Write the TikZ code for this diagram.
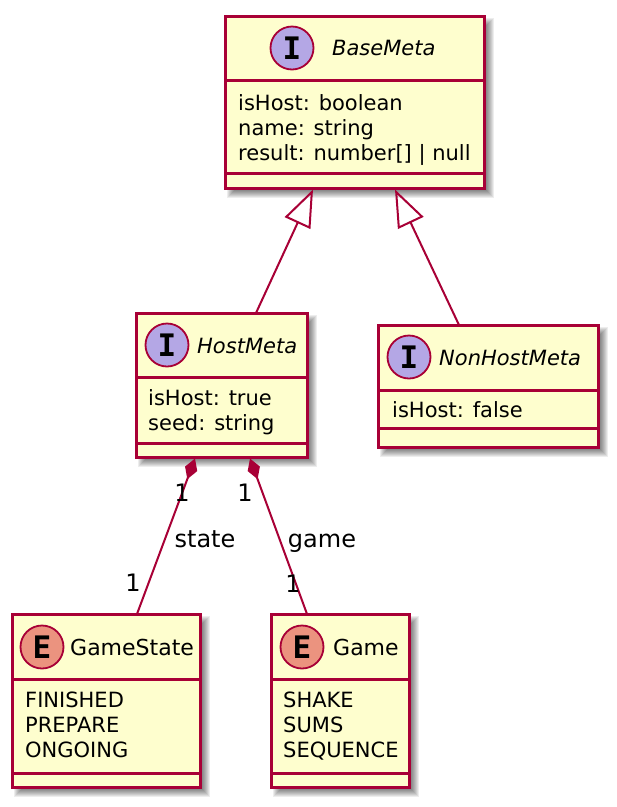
\documentclass[tikz,border=0pt]{standalone}
\usepackage{fontspec}
\setmainfont{DejaVu Sans}
\newfontfamily\circfont{DejaVu Sans Mono}
\usetikzlibrary{arrows.meta,calc}
\definecolor{umlborder}{HTML}{A80036}
\definecolor{umlfill}{HTML}{FEFECE}
\definecolor{ifill}{HTML}{B4A7E5}
\definecolor{efill}{HTML}{EB937F}
\tikzset{
  umlbox/.style={draw=umlborder, fill=umlfill, line width=3pt, inner sep=0pt, outer sep=0pt, rectangle},
  divider/.style={draw=umlborder, line width=3pt},
  txt/.style={anchor=base west, inner sep=0pt, font=\fontsize{21}{25}\selectfont},
  ttl/.style={anchor=base west, inner sep=0pt, font=\fontsize{21}{25}\selectfont\itshape},
  etl/.style={anchor=base west, inner sep=0pt, font=\fontsize{22}{25}\selectfont},
  circ/.style={circle, draw=umlborder, line width=1.8pt, minimum size=43pt, inner sep=0pt,
    font={\circfont\bfseries\fontsize{31}{31}\selectfont}},
  conn/.style={draw=umlborder, line width=2pt},
  lbl/.style={anchor=base, inner sep=0pt, font=\fontsize{24}{28}\selectfont},
}
% name x1 y1 x2 y2 div1 div2
\newcommand\umlclass[7]{%
  \foreach \e in {-4,...,4} {%
    \fill[black, opacity=0.07] ({#2+6-\e},{#3+6-\e}) rectangle ({#4+6+\e},{#5+6+\e});
  }
  \node[umlbox, minimum width={#4pt-#2pt}, minimum height={#5pt-#3pt}] (#1) at ({(#2+#4)/2},{(#3+#5)/2}) {};
  \draw[divider] (#2,#6) -- (#4,#6);
  \draw[divider] (#2,#7) -- (#4,#7);
}
\begin{document}
\begin{tikzpicture}[x=1pt,y=-1pt]
\fill[white] (0,0) rectangle (617,807);
\useasboundingbox (0,0) rectangle (617,807);

% BaseMeta
\umlclass{base}{225}{16}{484}{188}{80}{173}
\node[circ, fill=ifill] (baseI) at (292,48) {I};
\node[ttl] (baseT) at (332,55.7) {BaseMeta};
\node[txt] (baseF1) at (238,110) {isHost: boolean};
\node[txt] (baseF2) at (238,135.3) {name: string};
\node[txt] (baseF3) at (238,160.6) {result: number[] | null};

% HostMeta
\umlclass{host}{136}{313}{307}{457}{377}{443}
\node[circ, fill=ifill] (hostI) at (167,345) {I};
\node[ttl] (hostT) at (197,353) {HostMeta};
\node[txt] (hostF1) at (148,405) {isHost: true};
\node[txt] (hostF2) at (148,430.3) {seed: string};

% NonHostMeta
\umlclass{nonhost}{378}{325}{598}{447}{390}{428}
\node[circ, fill=ifill] (nonhostI) at (409,357) {I};
\node[ttl] (nonhostT) at (439,365) {NonHostMeta};
\node[txt] (nonhostF1) at (392,417) {isHost: false};

% GameState
\umlclass{gamestate}{12}{614}{200}{787}{679}{773}
\node[circ, fill=efill] (gamestateE) at (42,647) {E};
\node[etl] (gamestateT) at (70,655) {GameState};
\node[txt] (gsF1) at (25,707) {FINISHED};
\node[txt] (gsF2) at (25,732.3) {PREPARE};
\node[txt] (gsF3) at (25,757.6) {ONGOING};

% Game
\umlclass{game}{271}{614}{409}{787}{679}{773}
\node[circ, fill=efill] (gameE) at (302,647) {E};
\node[etl] (gameT) at (333,655) {Game};
\node[txt] (gF1) at (283,707) {SHAKE};
\node[txt] (gF2) at (283,732.3) {SUMS};
\node[txt] (gF3) at (283,757.6) {SEQUENCE};

% inheritance
\draw[conn, -{Triangle[open, length=37pt, width=28pt]}]
  ($(host.north west)+(120,0)$) -- ($(base.south west)+(88,1.5)$);
\draw[conn, -{Triangle[open, length=37pt, width=28pt]}]
  ($(nonhost.north west)+(81,0)$) -- ($(base.south west)+(170,1.5)$);

% composition
\draw[conn, {Diamond[length=22pt, width=13pt]}-]
  ($(host.south west)+(59,1.5)$) -- ($(gamestate.north west)+(125,0)$);
\draw[conn, {Diamond[length=22pt, width=13pt]}-]
  ($(host.south west)+(114,1.5)$) -- ($(game.north west)+(36,0)$);

% labels
\node[lbl] (m1) at (182,501) {1};
\node[lbl] (m2) at (245,501) {1};
\node[lbl] (lstate) at (205,547) {state};
\node[lbl] (lgame) at (322,547) {game};
\node[lbl] (m3) at (133,591) {1};
\node[lbl] (m4) at (293,592) {1};
\end{tikzpicture}
\end{document}
